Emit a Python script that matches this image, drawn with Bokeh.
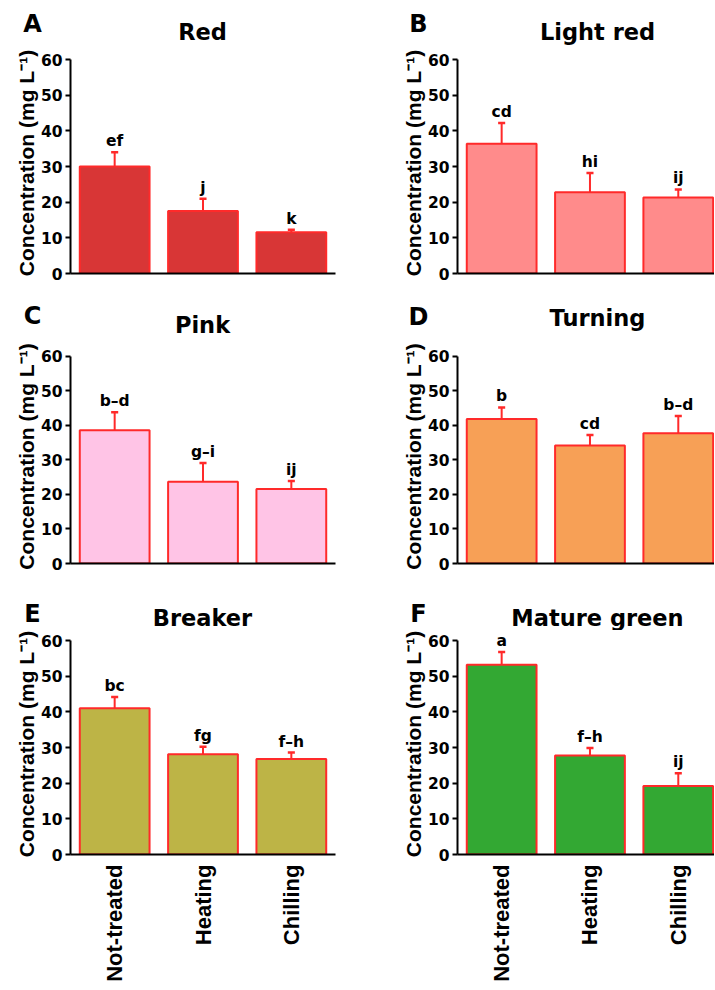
import math
from bokeh.plotting import figure
from bokeh.layouts import column, row
from bokeh.models import Range1d, FixedTicker, ColumnDataSource
from bokeh.core.properties import value
from bokeh.embed import file_html
from bokeh.resources import INLINE

# ---------------- data ----------------
treatments = ["Not-treated", "Heating", "Chilling"]
stages = ["Red", "Light red", "Pink", "Turning", "Breaker", "Mature green"]
panel_letters = ["A", "B", "C", "D", "E", "F"]
y_ticks = [0, 10, 20, 30, 40, 50, 60]
y_label = "Concentration (mg L\u207b\u00b9)"

red_mean = [30.0, 17.5, 11.6]
red_err = [4.0, 3.5, 0.7]
red_sig = ["ef", "j", "k"]

light_red_mean = [36.4, 22.8, 21.3]
light_red_err = [5.8, 5.4, 2.3]
light_red_sig = ["cd", "hi", "ij"]

pink_mean = [38.6, 23.7, 21.6]
pink_err = [5.2, 5.4, 2.3]
pink_sig = ["b\u2013d", "g\u2013i", "ij"]

turning_mean = [41.9, 34.2, 37.7]
turning_err = [3.3, 3.0, 5.0]
turning_sig = ["b", "cd", "b\u2013d"]

breaker_mean = [41.0, 28.1, 26.8]
breaker_err = [3.2, 2.1, 1.8]
breaker_sig = ["bc", "fg", "f\u2013h"]

green_mean = [53.2, 27.8, 19.2]
green_err = [3.6, 2.1, 3.6]
green_sig = ["a", "f\u2013h", "ij"]

means = [red_mean, light_red_mean, pink_mean, turning_mean, breaker_mean, green_mean]
errs = [red_err, light_red_err, pink_err, turning_err, breaker_err, green_err]
sigs = [red_sig, light_red_sig, pink_sig, turning_sig, breaker_sig, green_sig]

# ---------------- styles / layout ----------------
fills = ["#D83636", "#FF8B8B", "#FFC4E6", "#F7A056", "#BDB446", "#33A833"]
edge = "#FF2A2A"
HFONT = "DejaVu Sans"
RFONT = "Liberation Sans"
TOTAL_W = 714

# header strips: (page top, height)
headers = [(0, 45), (290, 50), (590, 40)]
# per panel: fig width, fig height, borders left/right/top/bottom, x-range end
specs = [
    dict(w=360, h=245, bl=70, br=25, bt=7, bb=17, xend=3.0),
    dict(w=354, h=245, bl=97, br=0, bt=7, bb=17, xend=2.91),
    dict(w=360, h=250, bl=70, br=25, bt=2, bb=27, xend=3.0),
    dict(w=354, h=250, bl=97, br=0, bt=9, bb=20, xend=2.91),
    dict(w=360, h=359, bl=70, br=25, bt=3, bb=135, xend=3.0),
    dict(w=354, h=359, bl=97, br=0, bt=3, bb=135, xend=2.91),
]
# page positions (center x, vertical middle of capitals)
title_pos = [(202, 31), (597, 31), (202, 324), (597, 317), (202, 617), (597, 617)]
letter_pos = [(32, 23), (418, 23), (32, 315), (418, 316), (32, 613), (418, 613)]

xs = [i + 0.5 for i in range(len(treatments))]


def make_header(r):
    top, hh = headers[r]
    p = figure(width=TOTAL_W, height=hh, x_range=Range1d(0, TOTAL_W), y_range=Range1d(hh, 0),
               output_backend="svg", toolbar_location=None, x_axis_type=None,
               y_axis_type=None, min_border_left=0, min_border_right=0,
               min_border_top=0, min_border_bottom=0, title=None)
    p.outline_line_color = None
    p.xgrid.visible = False
    p.ygrid.visible = False
    ks = [2 * r, 2 * r + 1]
    p.text(x=[title_pos[k][0] for k in ks], y=[title_pos[k][1] - top for k in ks],
           text=[stages[k] for k in ks], text_align="center", text_baseline="middle",
           text_font=value(HFONT), text_font_style="bold", text_font_size="22.5px",
           text_color="black")
    p.text(x=[letter_pos[k][0] for k in ks], y=[letter_pos[k][1] - top for k in ks],
           text=[panel_letters[k] for k in ks], text_align="center",
           text_baseline="middle", text_font=value(HFONT), text_font_style="bold",
           text_font_size="24px", text_color="black")
    return p


def make_panel(k):
    s = specs[k]
    p = figure(width=s["w"], height=s["h"], x_range=Range1d(0, s["xend"]),
               y_range=Range1d(0, 62), output_backend="svg", toolbar_location=None,
               min_border_left=s["bl"], min_border_right=s["br"],
               min_border_top=s["bt"], min_border_bottom=s["bb"], title=None)
    p.outline_line_color = None
    p.xgrid.visible = False
    p.ygrid.visible = False
    p.background_fill_color = "white"
    p.border_fill_color = "white"

    m = means[k]
    e = errs[k]
    upper = [a + b for a, b in zip(m, e)]
    src = ColumnDataSource(dict(x=xs, top=m, upper=upper, sig=sigs[k],
                                cl=[x - 0.04 for x in xs], cr=[x + 0.04 for x in xs]))
    p.segment(x0="x", y0="top", x1="x", y1="upper", source=src, line_color=edge, line_width=2)
    p.segment(x0="cl", y0="upper", x1="cr", y1="upper", source=src, line_color=edge, line_width=2.5)
    p.vbar(x="x", top="top", bottom=0, width=0.79, source=src, fill_color=fills[k],
           line_color=edge, line_width=2)
    p.text(x="x", y="upper", text="sig", source=src, y_offset=-11, text_align="center",
           text_baseline="middle", text_font=value(HFONT), text_font_style="bold",
           text_font_size="15.5px", text_color="black")

    ya = p.yaxis[0]
    ya.ticker = FixedTicker(ticks=y_ticks)
    ya.bounds = (0, 60)
    ya.axis_label = y_label
    ya.axis_label_text_font = RFONT
    ya.axis_label_text_font_style = "bold"
    ya.axis_label_text_font_size = "21px"
    ya.axis_label_text_color = "black"
    ya.axis_label_standoff = 0
    ya.major_label_text_font = HFONT
    ya.major_label_text_font_style = "bold"
    ya.major_label_text_font_size = "15.5px"
    ya.major_label_text_color = "black"
    ya.major_label_standoff = 3
    ya.major_tick_out = 5
    ya.major_tick_in = 0
    ya.minor_tick_out = 0
    ya.minor_tick_in = 0
    ya.axis_line_width = 2
    ya.major_tick_line_width = 2
    ya.axis_line_color = "black"
    ya.major_tick_line_color = "black"

    xa = p.xaxis[0]
    xa.axis_line_width = 2
    xa.axis_line_color = "black"
    xa.major_tick_out = 0
    xa.major_tick_in = 0
    xa.minor_tick_out = 0
    xa.minor_tick_in = 0
    if k >= 4:
        xa.ticker = FixedTicker(ticks=xs)
        xa.major_label_overrides = {x: t for x, t in zip(xs, treatments)}
        xa.major_label_orientation = math.pi / 2
        xa.major_label_text_font = RFONT
        xa.major_label_text_font_style = "bold"
        xa.major_label_text_font_size = "22px"
        xa.major_label_text_color = "black"
        xa.major_label_standoff = 10
    else:
        xa.ticker = FixedTicker(ticks=[])
        xa.major_label_standoff = 0
    return p


panels = [make_panel(k) for k in range(6)]
hdrs = [make_header(r) for r in range(3)]
layout = column(hdrs[0], row(panels[0], panels[1]),
                hdrs[1], row(panels[2], panels[3]),
                hdrs[2], row(panels[4], panels[5]))

with open("out.html", "w") as f:
    f.write(file_html(layout, INLINE))
